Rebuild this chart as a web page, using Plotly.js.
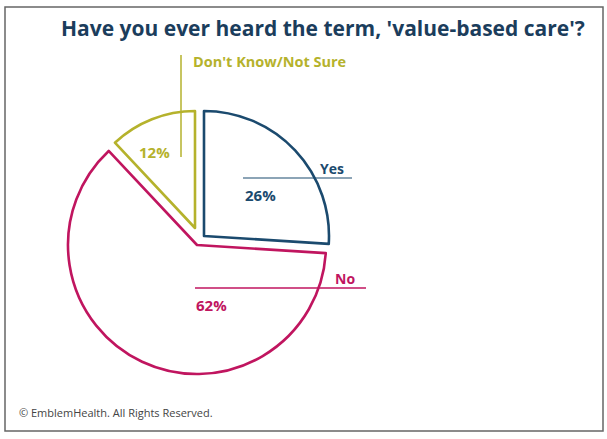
<!DOCTYPE html>
<html>
<head>
<meta charset="utf-8">
<script src="https://cdn.plot.ly/plotly-3.0.1.min.js"></script>
<style>html,body{margin:0;padding:0;background:#fff;}#chart{width:607px;height:439px;}</style>
</head>
<body>
<div id="chart"></div>
<script>
const categories = ['Yes', 'No', "Don't Know/Not Sure"];
const values = [26, 62, 12];
const colors = ['#1b4a6e', '#c0155f', '#b5b22c'];

const W = 607, H = 439;
// each slice is drawn by its own pie (same data, only one slice visible) to reproduce the exploded look
const pieGeom = [
  {cx: 204, cy: 236, r: 125},
  {cx: 197, cy: 245, r: 129},
  {cx: 195, cy: 228, r: 117}
];

const traces = categories.map((c, k) => {
  const g = pieGeom[k];
  return {
    type: 'pie',
    labels: categories,
    values: values,
    sort: false,
    direction: 'clockwise',
    rotation: 0,
    textinfo: 'none',
    hoverinfo: 'skip',
    showlegend: false,
    domain: {
      x: [(g.cx - g.r) / W, (g.cx + g.r) / W],
      y: [(H - g.cy - g.r) / H, (H - g.cy + g.r) / H]
    },
    marker: {
      colors: categories.map((_, i) => 'rgba(0,0,0,0)'),
      line: {
        color: categories.map((_, i) => i === k ? colors[k] : 'rgba(0,0,0,0)'),
        width: categories.map((_, i) => i === k ? 2.6 : 0)
      }
    }
  };
});

const px = x => x / W;
const py = y => 1 - y / H;
const font = "'Open Sans', 'DejaVu Sans', sans-serif";

const annotations = [
  {text: "<b>Have you ever heard the term, 'value-based care'?</b>", x: px(587), y: py(28), xanchor: 'right', yanchor: 'middle', font: {size: 21, color: '#1b3d5c', family: font}},
  {text: '<b>' + categories[0] + '</b>', x: px(346), y: py(168), xanchor: 'right', yanchor: 'middle', font: {size: 14, color: colors[0], family: font}},
  {text: '<b>' + values[0] + '%</b>', x: px(243), y: py(195), xanchor: 'left', yanchor: 'middle', font: {size: 15, color: colors[0], family: font}},
  {text: '<b>' + categories[1] + '</b>', x: px(357), y: py(278), xanchor: 'right', yanchor: 'middle', font: {size: 14, color: colors[1], family: font}},
  {text: '<b>' + values[1] + '%</b>', x: px(194), y: py(305), xanchor: 'left', yanchor: 'middle', font: {size: 15, color: colors[1], family: font}},
  {text: '<b>' + categories[2] + '</b>', x: px(191), y: py(62), xanchor: 'left', yanchor: 'middle', font: {size: 14.5, color: colors[2], family: font}},
  {text: '<b>' + values[2] + '%</b>', x: px(137), y: py(152), xanchor: 'left', yanchor: 'middle', font: {size: 15, color: colors[2], family: font}},
  {text: '© EmblemHealth. All Rights Reserved.', x: px(17), y: py(412), xanchor: 'left', yanchor: 'middle', font: {size: 11, color: '#444', family: font}}
].map(a => Object.assign({xref: 'paper', yref: 'paper', showarrow: false}, a));

const shapes = [
  {type: 'rect', x0: px(5), x1: px(603), y0: py(7), y1: py(431), line: {color: '#666', width: 1.5}},
  {type: 'line', x0: px(243), x1: px(352), y0: py(178), y1: py(178), line: {color: colors[0], width: 1.2}},
  {type: 'line', x0: px(195), x1: px(366), y0: py(288), y1: py(288), line: {color: colors[1], width: 1.5}},
  {type: 'line', x0: px(181), x1: px(181), y0: py(55), y1: py(157), line: {color: colors[2], width: 1.5}}
].map(s => Object.assign({xref: 'paper', yref: 'paper'}, s));

Plotly.newPlot('chart', traces, {
  width: W, height: H,
  margin: {l: 0, r: 0, t: 0, b: 0},
  paper_bgcolor: '#fff',
  showlegend: false,
  annotations: annotations,
  shapes: shapes
}, {displayModeBar: false, staticPlot: true});
</script>
</body>
</html>
